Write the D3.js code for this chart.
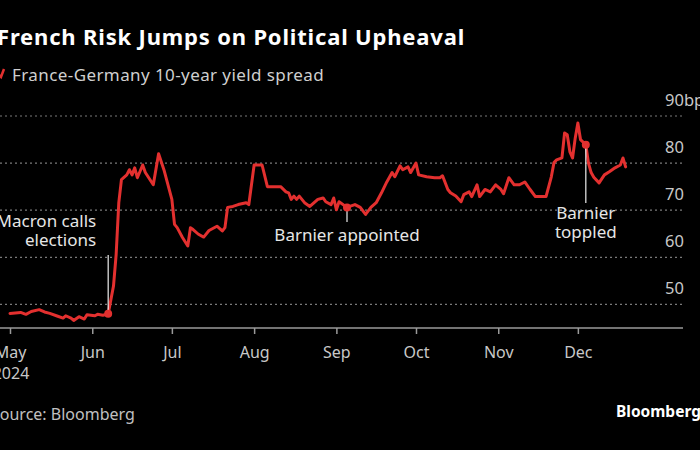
<!DOCTYPE html>
<html>
<head>
<meta charset="utf-8">
<script src="https://cdn.jsdelivr.net/npm/d3@7"></script>
<style>
  html, body { margin: 0; padding: 0; background: #000; }
  svg { display: block; }
  text { font-family: "Noto Sans", "DejaVu Sans", sans-serif; }
</style>
</head>
<body>
<svg id="chart" width="700" height="450"></svg>
<script>
const titleText = "French Risk Jumps on Political Upheaval";
const legendText = "France-Germany 10-year yield spread";
const sourceText = "Source: Bloomberg";
const brandText = "Bloomberg";

const dates = [
  "2024-05-01","2024-05-05","2024-05-07","2024-05-09","2024-05-12","2024-05-14","2024-05-16","2024-05-19",
  "2024-05-21","2024-05-22","2024-05-24","2024-05-25","2024-05-27","2024-05-29","2024-05-30","2024-06-02",
  "2024-06-03","2024-06-05","2024-06-07","2024-06-09","2024-06-10","2024-06-11","2024-06-12","2024-06-14",
  "2024-06-15","2024-06-16","2024-06-17","2024-06-18","2024-06-20","2024-06-21","2024-06-24","2024-06-26",
  "2024-06-28","2024-07-01","2024-07-02","2024-07-03","2024-07-05","2024-07-07","2024-07-08","2024-07-09",
  "2024-07-11","2024-07-13","2024-07-15","2024-07-18","2024-07-20","2024-07-21","2024-07-22","2024-07-24",
  "2024-07-26","2024-07-29","2024-07-30","2024-08-01","2024-08-04","2024-08-06","2024-08-09","2024-08-11",
  "2024-08-13","2024-08-14","2024-08-15","2024-08-16","2024-08-17","2024-08-18","2024-08-20","2024-08-22",
  "2024-08-25","2024-08-27","2024-08-28","2024-08-30","2024-08-31","2024-09-01","2024-09-02","2024-09-05",
  "2024-09-06","2024-09-08","2024-09-10","2024-09-12","2024-09-14","2024-09-16","2024-09-18","2024-09-20",
  "2024-09-22","2024-09-23","2024-09-25","2024-09-26","2024-09-28","2024-09-29","2024-10-01","2024-10-02",
  "2024-10-05","2024-10-08","2024-10-10","2024-10-11","2024-10-13","2024-10-14","2024-10-16","2024-10-18",
  "2024-10-19","2024-10-21","2024-10-22","2024-10-24","2024-10-25","2024-10-27","2024-10-29","2024-10-31",
  "2024-11-02","2024-11-03","2024-11-05","2024-11-07","2024-11-09","2024-11-11","2024-11-13","2024-11-15",
  "2024-11-19","2024-11-21","2024-11-22","2024-11-23","2024-11-25","2024-11-26","2024-11-27","2024-11-28",
  "2024-11-29","2024-11-30","2024-12-01","2024-12-02","2024-12-04","2024-12-05","2024-12-06","2024-12-07",
  "2024-12-09","2024-12-11","2024-12-13","2024-12-15","2024-12-17","2024-12-18","2024-12-19"
];
const spread = [
  48.1,48.3,47.9,48.5,48.9,48.4,48.1,47.5,
  47.1,47.6,47.1,46.6,47.4,46.9,47.8,47.6,
  47.9,47.7,48.0,53.9,60.6,71.6,76.5,77.5,
  78.6,77.5,79.0,76.9,79.6,78.0,75.4,82.0,
  78.6,72.3,67.0,66.3,64.2,62.4,66.3,65.9,
  64.9,64.3,65.7,66.6,65.6,66.3,70.6,70.8,
  71.2,71.6,71.2,79.6,79.6,75.0,75.0,75.0,
  73.9,73.7,72.3,73.0,72.3,73.0,71.6,70.8,
  72.3,72.6,71.8,71.2,72.6,70.1,71.8,70.6,
  70.8,71.2,70.6,69.1,70.6,71.6,73.7,76.0,
  78.0,77.1,79.4,78.6,79.2,78.0,80.0,77.5,
  77.1,76.9,76.9,77.3,74.4,73.7,73.0,71.8,
  73.3,73.9,72.9,75.4,72.9,74.4,73.9,75.4,
  74.4,73.5,76.9,75.4,75.4,76.0,74.4,72.9,
  72.9,77.1,80.1,80.7,81.1,86.4,86.0,82.4,
  81.1,85.3,88.5,85.0,83.9,80.0,78.0,77.0,
  75.8,77.5,78.2,79.0,79.6,81.1,79.2
];

const yTicks = [50, 60, 70, 80, 90];
const yTickLabels = ["50", "60", "70", "80", "90bp"];
const monthTicks = ["2024-05-01","2024-06-01","2024-07-01","2024-08-01","2024-09-01","2024-10-01","2024-11-01","2024-12-01"];
const monthLabels = ["May","Jun","Jul","Aug","Sep","Oct","Nov","Dec"];
const yearLabel = "2024";

const annoDates = ["2024-06-07", "2024-09-05", "2024-12-04"];
const annoLabels = [["Macron calls", "elections"], ["Barnier appointed"], ["Barnier", "toppled"]];

const parse = d3.timeParse("%Y-%m-%d");
const data = dates.map((d, i) => ({ date: parse(d), value: spread[i] }));

const svg = d3.select("#chart");
const RED = "#e3302f";

// widen a text to a target width with letter-spacing
function fit(sel, target) {
  const w = sel.node().getComputedTextLength();
  const n = sel.text().length;
  sel.attr("letter-spacing", ((target - w) / n).toFixed(2));
  return sel;
}

const x = d3.scaleTime()
  .domain([parse("2024-05-01"), parse("2025-01-10")])
  .range([10, 684]);
const y = d3.scaleLinear().domain([45, 90]).range([328, 116]);

// Title
fit(svg.append("text").attr("x", -3).attr("y", 45)
  .attr("fill", "#fff").attr("font-size", 22).attr("font-weight", "bold")
  .text(titleText), 468);

// Legend
svg.append("path").attr("d", "M-2,74 L1,77 L4,69")
  .attr("stroke", RED).attr("stroke-width", 2.5).attr("fill", "none");
fit(svg.append("text").attr("x", 12).attr("y", 81)
  .attr("fill", "#cfcfcf").attr("font-size", 17)
  .text(legendText), 312);

// Gridlines
svg.append("g").selectAll("line").data(yTicks).join("line")
  .attr("x1", 0).attr("x2", 682)
  .attr("y1", d => y(d)).attr("y2", d => y(d))
  .attr("stroke", "#7a7a7a").attr("stroke-width", 1.2)
  .attr("stroke-dasharray", "2,3");

// Y labels
svg.append("g").selectAll("text").data(yTicks).join("text")
  .attr("x", 665).attr("y", d => y(d) - 10)
  .attr("fill", "#c8c8c8").attr("font-size", 16.5)
  .text((d, i) => yTickLabels[i]);

// X axis
const xAxis = d3.axisBottom(x)
  .tickValues(monthTicks.map(parse))
  .tickSize(6).tickSizeOuter(0)
  .tickFormat((d, i) => monthLabels[i]);
const gx = svg.append("g").attr("transform", "translate(0,328)").call(xAxis);
gx.select(".domain").remove();
gx.selectAll(".tick line").attr("stroke", "#9a9a9a").attr("stroke-width", 1.5);
gx.selectAll(".tick text").attr("fill", "#c8c8c8").attr("font-size", 16)
  .attr("font-family", "'Noto Sans', sans-serif").attr("dy", null).attr("y", 30);
svg.append("line").attr("x1", 0).attr("x2", 683).attr("y1", 328).attr("y2", 328)
  .attr("stroke", "#9a9a9a").attr("stroke-width", 1.5);
svg.append("text").attr("x", x(parse(monthTicks[0])) + 1).attr("y", 379)
  .attr("text-anchor", "middle").attr("fill", "#c8c8c8").attr("font-size", 16)
  .text(yearLabel);

// Line
const line = d3.line().x(d => x(d.date)).y(d => y(d.value)).curve(d3.curveLinear);
svg.append("path").datum(data).attr("d", line)
  .attr("fill", "none").attr("stroke", RED).attr("stroke-width", 3)
  .attr("stroke-linejoin", "round").attr("stroke-linecap", "round");

// Annotations
const annoG = svg.append("g");
const annoFont = 17;
annoDates.forEach((ds, i) => {
  const dt = parse(ds);
  const pt = data.find(d => +d.date === +dt);
  const cx = x(pt.date), cy = y(pt.value);
  const labs = annoLabels[i];
  if (i === 0) {
    annoG.append("line").attr("x1", cx).attr("x2", cx).attr("y1", cy).attr("y2", 255)
      .attr("stroke", "#eee").attr("stroke-width", 1.2);
    labs.forEach((t, k) => annoG.append("text").attr("x", cx - 12).attr("y", 227 + k * 19)
      .attr("text-anchor", "end").attr("fill", "#e6e6e6").attr("font-size", annoFont).text(t));
  } else if (i === 1) {
    annoG.append("line").attr("x1", cx).attr("x2", cx).attr("y1", cy).attr("y2", 222)
      .attr("stroke", "#eee").attr("stroke-width", 1.2);
    labs.forEach((t, k) => annoG.append("text").attr("x", cx).attr("y", 241 + k * 19)
      .attr("text-anchor", "middle").attr("fill", "#e6e6e6").attr("font-size", annoFont).text(t));
  } else {
    annoG.append("line").attr("x1", cx).attr("x2", cx).attr("y1", cy).attr("y2", 203)
      .attr("stroke", "#eee").attr("stroke-width", 1.2);
    labs.forEach((t, k) => annoG.append("text").attr("x", cx).attr("y", 219 + k * 19)
      .attr("text-anchor", "middle").attr("fill", "#e6e6e6").attr("font-size", annoFont).text(t));
  }
  annoG.append("circle").attr("cx", cx).attr("cy", cy).attr("r", 4).attr("fill", RED);
});

// Footer
svg.append("text").attr("x", -9).attr("y", 420)
  .attr("fill", "#c0c0c0").attr("font-size", 16).text(sourceText);
svg.append("text").attr("x", 701).attr("y", 417).attr("text-anchor", "end")
  .attr("fill", "#fff").attr("font-size", 15.5).attr("font-weight", "bold")
  .text(brandText);
</script>
</body>
</html>
